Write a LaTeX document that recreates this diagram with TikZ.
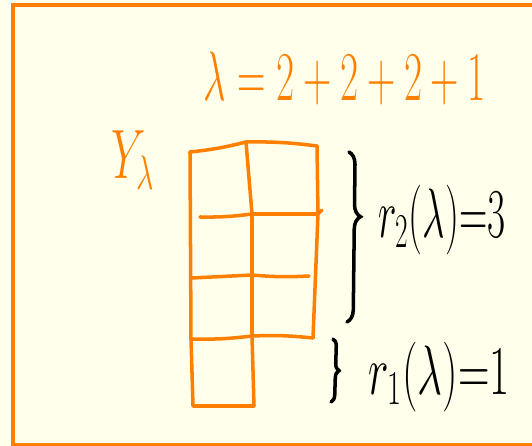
\documentclass[tikz,border=0pt]{standalone}
\usepackage{amsmath}
\usetikzlibrary{decorations.pathreplacing}
\definecolor{paper}{RGB}{255,255,235}
\definecolor{pen}{RGB}{255,128,0}

\begin{document}
\begin{tikzpicture}[x=0.02cm, y=-0.02cm,
    box/.style={pen, line width=2pt, line cap=round, line join=round},
    ink/.style={black, line width=2pt, line cap=round},
    hand/.style={inner sep=0pt, font=\fontsize{24}{28}\selectfont}]
    
    \fill[paper] (0,0) rectangle (532,446);
    \useasboundingbox (0,0) rectangle (532,446);
    \draw[pen, line width=2.2pt] (545,5) -- (13,5) -- (13,445) -- (545,445);
    
    % corners of the boxes
    \coordinate (T0) at (190,152);
    \coordinate (T1) at (246,142);
    \coordinate (T2) at (317,146);
    \coordinate (R1a) at (200,217);
    \coordinate (R1b) at (252,214);
    \coordinate (R1c) at (318,214);
    \coordinate (R2a) at (192,278);
    \coordinate (R2b) at (252,275);
    \coordinate (R2c) at (309,276);
    \coordinate (R3a) at (191,339);
    \coordinate (R3b) at (252,336);
    \coordinate (R3c) at (313,338);
    \coordinate (B0) at (193,406);
    \coordinate (B1) at (254,406);
    
    \draw[box] (T0) to[bend right=4] (T1) to[bend left=4] (T2);
    \draw[box] (R1a) to[bend right=4] (R1b) -- (R1c) -- (322,210);
    \draw[box] (R2a) -- (R2b) to[bend right=4] (R2c);
    \draw[box] (R3a) to[bend right=4] (R3b) to[bend left=4] (R3c);
    \draw[box] (T0) -- (R3a);
    \draw[box] (R3a) -- (B0) -- (B1);
    \draw[box] (T1) -- (R1b) -- (R3b) -- (B1);
    \draw[box] (T2) -- (R1c) -- (R3c);
    
    % labels
    \node[hand, pen, xscale=0.9, yscale=1.6] (part) at (345,78) {$\lambda = 2+2+2+1$};
    \node[hand, pen, yscale=1.6] (Y) at (133,160) {$Y_{\lambda}$};
    
    % braces
    \coordinate (b2top) at (349,152);
    \coordinate (b2bot) at (347,322);
    \coordinate (b1top) at (333,339);
    \coordinate (b1bot) at (331,402);
    \draw[ink, decorate, decoration={brace, amplitude=7pt, aspect=0.38}] (b2top) -- (b2bot);
    \draw[ink, decorate, decoration={brace, amplitude=4pt, aspect=0.5}] (b1top) -- (b1bot);
    \node[hand, anchor=west, xscale=0.9, yscale=1.6] (r2) at (378,220) {$r_2(\lambda){=}3$};
    \node[hand, anchor=west, yscale=1.6] (r1) at (368,377) {$r_1(\lambda){=}1$};
\end{tikzpicture}
\end{document}
